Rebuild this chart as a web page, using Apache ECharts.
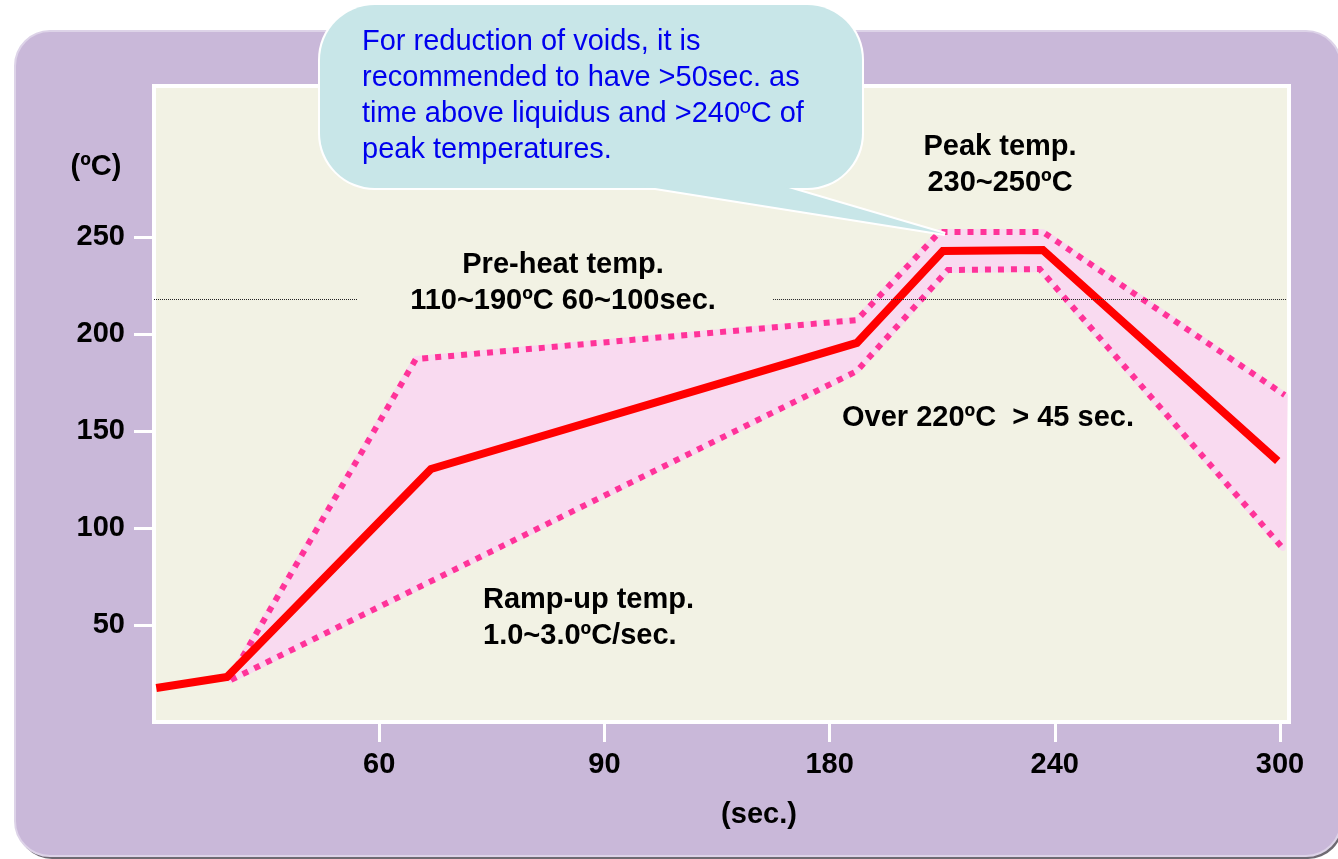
<!DOCTYPE html>
<html>
<head>
<meta charset="utf-8">
<script src="https://cdn.jsdelivr.net/npm/echarts@6/dist/echarts.min.js"></script>
<style>
html,body{margin:0;padding:0;background:#ffffff;}
#chart{width:1338px;height:859px;}
</style>
</head>
<body>
<div id="chart"></div>
<script>
// ---- data (x in tick-slot units: slot k sits under xTickLabels[k-1]) ----
const xTickSlots = [1, 2, 3, 4, 5];
const xTickLabels = ['60', '90', '180', '240', '300'];
const yTickValues = [50, 100, 150, 200, 250];

const profileX = [0.01, 0.324, 1.23, 3.121, 3.503, 3.947, 4.99];
const profileY = [17.5, 23.2, 130.5, 195.5, 242.9, 243.4, 134.6];

const upperX = [0.335, 1.163, 3.121, 3.489, 3.947, 5.021];
const upperY = [22.0, 187.2, 207.3, 252.7, 252.7, 168.6];

const lowerX = [0.342, 3.121, 3.525, 3.933, 5.012];
const lowerY = [21.7, 181.0, 233.1, 233.6, 89.7];

const liquidusY = 218;
const liquidusSegments = [[0, 0.902], [2.749, 5.03]];

const zip = (xs, ys) => xs.map((x, i) => [x, ys[i]]);
const profile = zip(profileX, profileY);
const upper = zip(upperX, upperY);
const lower = zip(lowerX, lowerY);
const band = upper.concat(lower.slice().reverse());

const FONT = '"Liberation Sans", Arial, sans-serif';
const bold = (txt, x, y, align) => ({
  type: 'text', x: x, y: y, z: 50,
  style: { text: txt, font: 'bold 29px ' + FONT, fill: '#000', align: align || 'center', verticalAlign: 'middle', lineHeight: 36 }
});

const chart = echarts.init(document.getElementById('chart'), null, { renderer: 'canvas' });
chart.setOption({
  animation: false,
  backgroundColor: 'transparent',
  grid: {
    left: 154, right: 49, top: 86, bottom: 137,
    show: true, backgroundColor: '#f2f2e4', borderColor: '#ffffff', borderWidth: 4, z: 1
  },
  xAxis: {
    type: 'value', min: 0, max: 5.04, interval: 1,
    splitLine: { show: false },
    axisLine: { show: false },
    axisTick: { show: true, customValues: xTickSlots, length: 20, lineStyle: { color: '#ffffff', width: 3 } },
    axisLabel: {
      customValues: xTickSlots, margin: 28,
      formatter: v => xTickLabels[Math.round(v) - 1] || '',
      color: '#000', fontSize: 29, fontWeight: 'bold', fontFamily: FONT
    }
  },
  yAxis: {
    type: 'value', min: 0, max: 328, interval: 50,
    splitLine: { show: false },
    axisLine: { show: false },
    axisTick: { show: true, customValues: yTickValues, length: 20, lineStyle: { color: '#ffffff', width: 3 } },
    axisLabel: {
      customValues: yTickValues, margin: 29,
      color: '#000', fontSize: 29, fontWeight: 'bold', fontFamily: FONT
    }
  },
  series: [
    {
      type: 'custom', z: 2, silent: true,
      data: [[0, 0]],
      renderItem: function (params, api) {
        return {
          type: 'polygon',
          shape: { points: band.map(p => api.coord(p)) },
          style: { fill: '#f9daf0', stroke: '#f9daf0', lineWidth: 6, lineJoin: 'round' }
        };
      }
    },
    {
      type: 'line', z: 3, data: upper, symbol: 'none', silent: true,
      lineStyle: { color: '#ff3399', width: 6, type: [6, 7], cap: 'butt', join: 'miter' }
    },
    {
      type: 'line', z: 3, data: lower, symbol: 'none', silent: true,
      lineStyle: { color: '#ff3399', width: 6, type: [6, 7], cap: 'butt', join: 'miter' }
    },
    {
      type: 'line', z: 4, data: profile, symbol: 'none', silent: true,
      lineStyle: { color: '#ff0000', width: 8, join: 'miter', cap: 'butt' },
      markLine: {
        silent: true, symbol: 'none', label: { show: false },
        lineStyle: { color: '#222', width: 1, type: [1, 1] },
        data: liquidusSegments.map(s => [{ coord: [s[0], liquidusY] }, { coord: [s[1], liquidusY] }])
      }
    }
  ],
  graphic: [
    {
      type: 'rect', z: -11, silent: true,
      shape: { x: 17, y: 34, width: 1326, height: 825, r: 35 },
      style: { fill: '#6e6a72' }
    },
    {
      type: 'rect', z: -10, silent: true,
      shape: { x: 15, y: 31, width: 1326, height: 825, r: 35 },
      style: { fill: '#c9b8d9', stroke: '#ddd3e8', lineWidth: 2 }
    },
    // callout outline
    {
      type: 'rect', z: 60, silent: true,
      shape: { x: 320, y: 5, width: 542, height: 183, r: 55 },
      style: { fill: '#c8e6e8', stroke: '#ffffff', lineWidth: 4 }
    },
    {
      type: 'polygon', z: 60, silent: true,
      shape: { points: [[630, 184], [945, 234], [775, 184]] },
      style: { fill: '#c8e6e8', stroke: '#ffffff', lineWidth: 4, lineJoin: 'miter' }
    },
    {
      type: 'rect', z: 61, silent: true,
      shape: { x: 320, y: 5, width: 542, height: 183, r: 55 },
      style: { fill: '#c8e6e8' }
    },
    {
      type: 'polygon', z: 61, silent: true,
      shape: { points: [[630, 184], [945, 234], [775, 184]] },
      style: { fill: '#c8e6e8' }
    },
    {
      type: 'text', x: 362, y: 24, z: 62,
      style: {
        text: 'For reduction of voids, it is\nrecommended to have >50sec. as\ntime above liquidus and >240ºC of\npeak temperatures.',
        font: '29px ' + FONT, fill: '#0000ee', align: 'left', verticalAlign: 'top', lineHeight: 36
      }
    },
    bold('Peak temp.\n230~250ºC', 1000, 165),
    bold('Pre-heat temp.\n110~190ºC 60~100sec.', 563, 283),
    bold('Ramp-up temp.\n1.0~3.0ºC/sec.', 483, 618, 'left'),
    bold('Over 220ºC  > 45 sec.', 842, 418, 'left'),
    bold('(sec.)', 759, 815),
    bold('(ºC)', 96, 167)
  ]
});
</script>
</body>
</html>
